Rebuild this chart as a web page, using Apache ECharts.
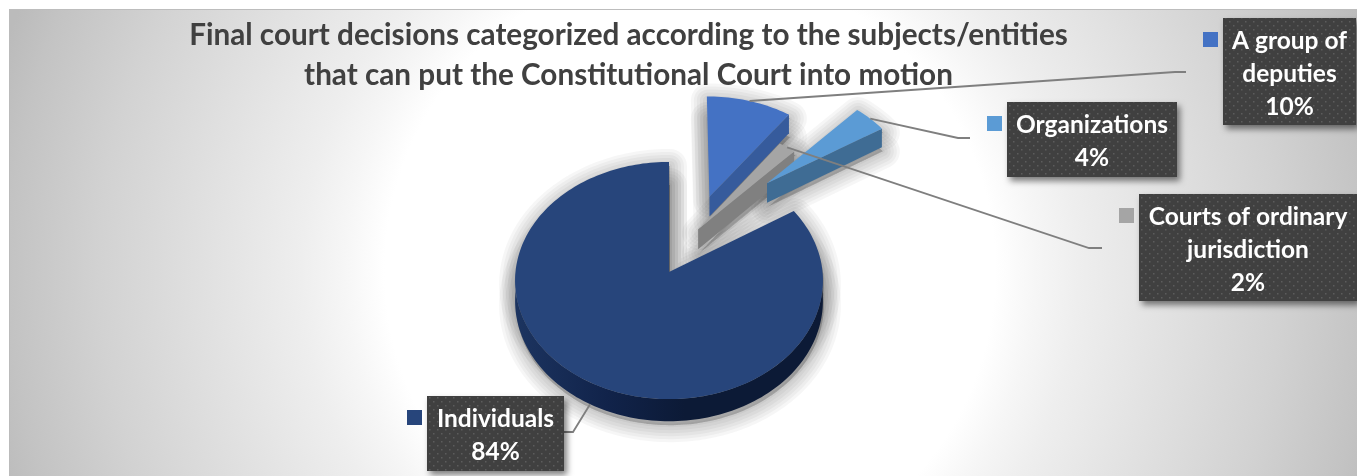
<!DOCTYPE html>
<html>
<head>
<meta charset="utf-8">
<style>
html,body{margin:0;padding:0;background:#fff;}
#chart{width:1357px;height:476px;}
</style>
<script src="https://cdn.jsdelivr.net/npm/echarts@6/dist/echarts.min.js"></script>
</head>
<body>
<div id="chart"></div>
<script>
// Share of final court decisions per applicant type, clockwise from the first slice angle
const categories = ['Individuals', 'A group of deputies', 'Courts of ordinary jurisdiction', 'Organizations'];
const values = [84, 10, 2, 4];
const labelLines = ['Individuals', 'A group of\ndeputies', 'Courts of ordinary\njurisdiction', 'Organizations'];
const titleLines = ['Final court decisions categorized according to the subjects/entities', 'that can put the Constitutional Court into motion'];

const topColors = ['#27457b', '#4472c4', '#a5a5a5', '#5b9bd5'];
const sideColors = ['#0d1b36', '#365b9c', '#808080', '#3f6c94'];

const firstSliceAngle = 57.6;
// How far each slice is pulled out on the pie's plane, in radii
const explosion = [[0, 0], [0.276, -0.666], [0.195, -0.372], [0.675, -0.795]];

// Camera for the tilted disc: plane coordinates to screen pixels
const cam = { cx: 669, cy: 272, rx: 153.5, ry: 118, k: 0.0717, depth: 20.5 };
function project(u, v, lowered) {
  const w = 1 - cam.k * v;
  return [cam.cx + cam.rx * u / w, cam.cy + cam.ry * v / w + (lowered ? cam.depth / w : 0)];
}

// Data-label boxes: box rectangle, legend key position, leader line waypoints
const labelBoxes = [
  { box: [427, 396, 137, 75], key: [407, 410], leader: [[573, 432], [564, 432]] },
  { box: [1223, 18, 133, 107], key: [1203, 32], leader: [[1175, 72], [1186, 72]] },
  { box: [1139, 194, 218, 107], key: [1119, 208], leader: [[1089, 248], [1102, 248]] },
  { box: [1007, 102, 170, 75], key: [987, 116], leader: [[958, 138], [970, 138]] }
];

const total = values.reduce((a, b) => a + b, 0);
let running = firstSliceAngle;
const sweeps = values.map(v => {
  const start = running;
  running += v / total * 360;
  return [start, running];
});

const rad = d => d * Math.PI / 180;
function rim(i, deg, lowered) {
  const [ou, ov] = explosion[i];
  return project(ou + Math.sin(rad(deg)), ov - Math.cos(rad(deg)), lowered);
}
function apex(i, lowered) {
  return project(explosion[i][0], explosion[i][1], lowered);
}
function arc(i, a, b, lowered) {
  const pts = [];
  const n = Math.max(2, Math.ceil((b - a) / 1.5));
  for (let s = 0; s <= n; s++) pts.push(rim(i, a + (b - a) * s / n, lowered));
  return pts;
}
function wedge(i, lowered) {
  return [apex(i, lowered)].concat(arc(i, sweeps[i][0], sweeps[i][1], lowered));
}

function dotTexture() {
  const c = document.createElement('canvas');
  c.width = 8; c.height = 8;
  const g = c.getContext('2d');
  g.fillStyle = '#404040';
  g.fillRect(0, 0, 8, 8);
  g.fillStyle = '#5c5c5c';
  g.fillRect(1, 1, 1.5, 1.5);
  g.fillRect(5, 5, 1.5, 1.5);
  return c;
}
const boxTexture = { image: dotTexture(), repeat: 'repeat' };

// Soft cast shadow built from stacked translucent outlines of widening stroke
const shadowWidths = [4, 10, 16, 22, 28, 34];
function renderShadow(params) {
  const i = params.dataIndex;
  const children = [];
  [false, true].forEach(lowered => {
    const points = wedge(i, lowered).map(p => [p[0] + 1, p[1] + 4]);
    shadowWidths.forEach(lineWidth => children.push({
      type: 'polygon',
      shape: { points },
      style: {
        fill: 'rgba(0,0,0,0.035)',
        stroke: 'rgba(0,0,0,0.035)',
        lineWidth,
        lineJoin: 'round'
      }
    }));
  });
  return { type: 'group', children };
}

function renderSlice(params) {
  const i = params.dataIndex;
  const [a, b] = sweeps[i];
  const children = [];
  const side = (points, fill) => children.push({ type: 'polygon', shape: { points }, style: { fill } });

  // Cut faces that turn toward the viewer
  if (Math.sin(rad(b)) > 0.001) {
    side([apex(i, false), rim(i, b, false), rim(i, b, true), apex(i, true)], sideColors[i]);
  }
  if (Math.sin(rad(a)) < -0.001) {
    side([apex(i, false), rim(i, a, false), rim(i, a, true), apex(i, true)], sideColors[i]);
  }
  // Outer wall along the front half of the disc
  const from = Math.max(a, 90), to = Math.min(b, 270);
  if (to > from) {
    const x0 = rim(i, 270, false)[0], x1 = rim(i, 90, false)[0];
    const fill = i === 0 ? {
      type: 'linear', global: true, x: x0, y: 0, x2: x1, y2: 0,
      colorStops: [
        { offset: 0, color: '#1c3460' },
        { offset: 0.3, color: '#11234a' },
        { offset: 0.55, color: '#0c1a36' },
        { offset: 1, color: '#0c1a36' }
      ]
    } : sideColors[i];
    side(arc(i, from, to, false).concat(arc(i, from, to, true).reverse()), fill);
  }
  children.push({ type: 'polygon', shape: { points: wedge(i, false) }, style: { fill: topColors[i] } });
  return { type: 'group', children };
}

function renderLabel(params, api) {
  const i = params.dataIndex;
  const spec = labelBoxes[i];
  const [x, y, w, h] = spec.box;
  const mid = (sweeps[i][0] + sweeps[i][1]) / 2;
  const anchor = rim(i, mid, Math.cos(rad(mid)) < 0);
  return {
    type: 'group',
    children: [
      {
        type: 'polyline',
        shape: { points: [anchor].concat(spec.leader) },
        style: { stroke: '#7f7f7f', lineWidth: 1.8, fill: null }
      },
      {
        type: 'rect',
        shape: { x: spec.key[0], y: spec.key[1], width: 15, height: 15 },
        style: { fill: topColors[i] }
      },
      {
        type: 'rect',
        shape: { x, y, width: w, height: h },
        style: {
          fill: boxTexture,
          shadowColor: 'rgba(0,0,0,0.5)',
          shadowBlur: 6,
          shadowOffsetX: 3,
          shadowOffsetY: 4
        }
      },
      {
        type: 'text',
        style: {
          x: x + w / 2,
          y: y + h / 2 + 2.5,
          text: labelLines[i] + '\n' + api.value(0) + '%',
          fill: '#ffffff',
          font: 'bold 24.5px Lato',
          lineHeight: 33,
          align: 'center',
          verticalAlign: 'middle'
        }
      }
    ]
  };
}

const chart = echarts.init(document.getElementById('chart'), null, { renderer: 'canvas' });
chart.setOption({
  animation: false,
  backgroundColor: '#ffffff',
  title: {
    text: titleLines.join('\n'),
    left: 623.5,
    top: 11,
    textAlign: 'center',
    textStyle: {
      fontFamily: 'Lato',
      fontWeight: 'bold',
      fontSize: 29.7,
      lineHeight: 39.5,
      color: '#404040'
    }
  },
  graphic: [
    {
      type: 'rect',
      z: -10,
      shape: { x: 9, y: 9, width: 1348, height: 467 },
      style: {
        fill: {
          type: 'radial', global: true, x: 690, y: 270, r: 720,
          colorStops: [
            { offset: 0, color: '#ffffff' },
            { offset: 0.424, color: '#ffffff' },
            { offset: 0.48, color: '#f6f6f6' },
            { offset: 0.54, color: '#eeeeee' },
            { offset: 0.68, color: '#e0e0e0' },
            { offset: 0.82, color: '#d2d2d2' },
            { offset: 0.946, color: '#c3c3c3' },
            { offset: 1, color: '#bbbbbb' }
          ]
        }
      }
    },
    {
      type: 'line',
      z: -9,
      shape: { x1: 9, y1: 9.5, x2: 1357, y2: 9.5 },
      style: { stroke: '#bdbdbd', lineWidth: 1 }
    },
    {
      type: 'line',
      z: -9,
      shape: { x1: 9.5, y1: 9, x2: 9.5, y2: 476 },
      style: { stroke: '#bbbbbb', lineWidth: 1 }
    }
  ],
  series: [
    { type: 'custom', name: 'cast shadow', coordinateSystem: 'none', z: 10, renderItem: renderShadow,
      data: values.map((v, i) => ({ name: categories[i], value: [v] })) },
    { type: 'custom', name: 'slices', coordinateSystem: 'none', z: 11, renderItem: renderSlice,
      data: values.map((v, i) => ({ name: categories[i], value: [v] })) },
    { type: 'custom', name: 'labels', coordinateSystem: 'none', z: 12, renderItem: renderLabel,
      data: values.map((v, i) => ({ name: categories[i], value: [v] })) }
  ]
});
</script>
</body>
</html>
